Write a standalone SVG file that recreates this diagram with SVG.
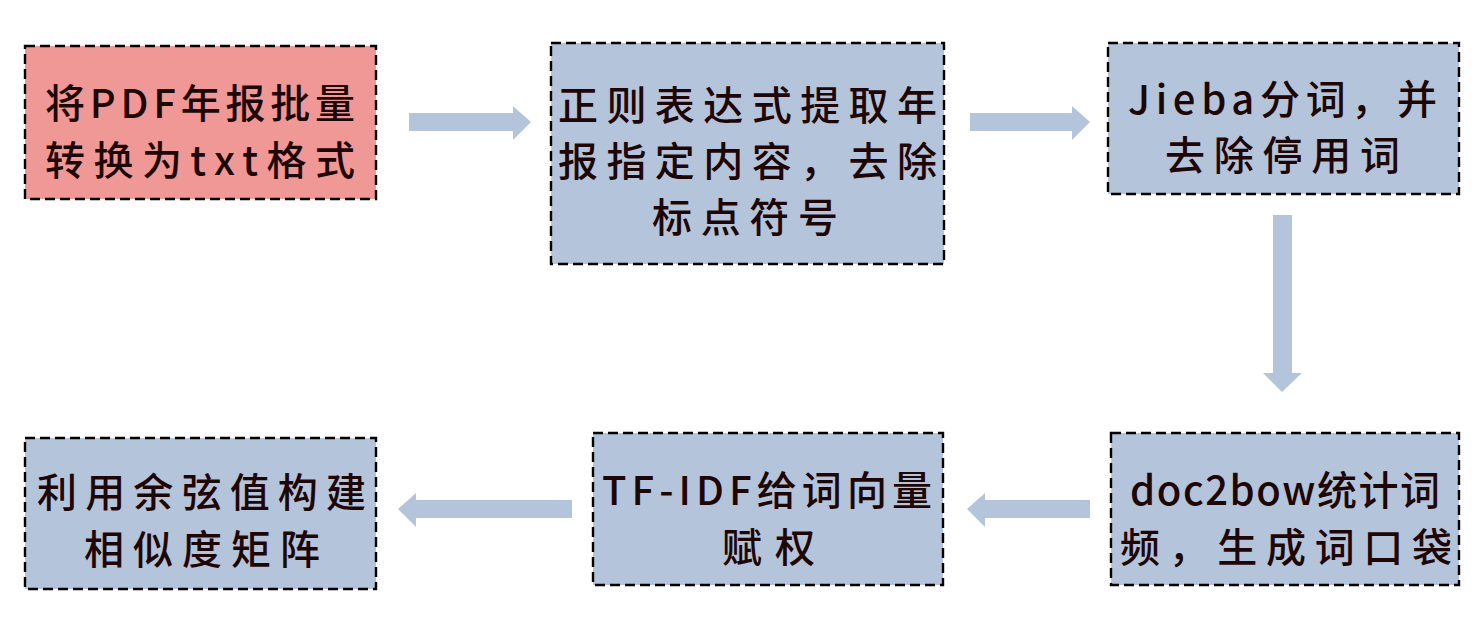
<svg xmlns="http://www.w3.org/2000/svg" width="1472" height="618" viewBox="0 0 1472 618">
<style>
.box{fill:#B4C4DA;stroke:#000;stroke-width:2.4;stroke-dasharray:10 5}
.pink{fill:#F09896}
.t{font-family:"Noto Sans CJK SC","Noto Sans",sans-serif;font-size:40px;font-weight:500;fill:#1f0606;text-anchor:start;dominant-baseline:central}
.arr{fill:#B4C4DA}
</style>
<rect width="1472" height="618" fill="#fff"/>
<g id="connectors">
<polygon class="arr" points="409,113 513,113 513,106 531,122 513,140 513,131 409,131"/>
<polygon class="arr" points="970,113 1072,113 1072,106 1090,122 1072,140 1072,131 970,131"/>
<polygon class="arr" points="1273,215 1292,215 1292,373 1302,373 1282,392 1263,373 1273,373"/>
<polygon class="arr" points="1090,500 985,500 985,493 967,509 985,527 985,518 1090,518"/>
<polygon class="arr" points="572,500 416,500 416,493 398,509 416,527 416,518 572,518"/>
</g>
<g id="n1">
<rect class="box pink" x="25" y="46" width="351" height="153"/>
<text class="t" x="45" y="101" textLength="310" lengthAdjust="spacing">将PDF年报批量</text>
<text class="t" x="45" y="158" textLength="310" lengthAdjust="spacing">转换为txt格式</text>
</g>
<g id="n2">
<rect class="box" x="551" y="43" width="393" height="221"/>
<text class="t" x="558" y="103" textLength="379" lengthAdjust="spacing">正则表达式提取年</text>
<text class="t" x="558" y="159" textLength="379" lengthAdjust="spacing">报指定内容，去除</text>
<text class="t" x="652" y="215" textLength="186" lengthAdjust="spacing">标点符号</text>
</g>
<g id="n3">
<rect class="box" x="1108" y="43" width="351" height="151"/>
<text class="t" x="1128" y="97" textLength="309" lengthAdjust="spacing">Jieba分词，并</text>
<text class="t" x="1165" y="153" textLength="235" lengthAdjust="spacing">去除停用词</text>
</g>
<g id="n4">
<rect class="box" x="1111" y="433" width="348" height="152"/>
<text class="t" x="1130" y="488" textLength="310" lengthAdjust="spacing">doc2bow统计词</text>
<text class="t" x="1120" y="545" textLength="332" lengthAdjust="spacing">频，生成词口袋</text>
</g>
<g id="n5">
<rect class="box" x="593" y="433" width="350" height="152"/>
<text class="t" x="602" y="488" textLength="330" lengthAdjust="spacing">TF-IDF给词向量</text>
<text class="t" x="722" y="545" textLength="93" lengthAdjust="spacing">赋权</text>
</g>
<g id="n6">
<rect class="box" x="25" y="438" width="351" height="151"/>
<text class="t" x="37" y="490" textLength="329" lengthAdjust="spacing">利用余弦值构建</text>
<text class="t" x="84" y="547" textLength="236" lengthAdjust="spacing">相似度矩阵</text>
</g>
</svg>
